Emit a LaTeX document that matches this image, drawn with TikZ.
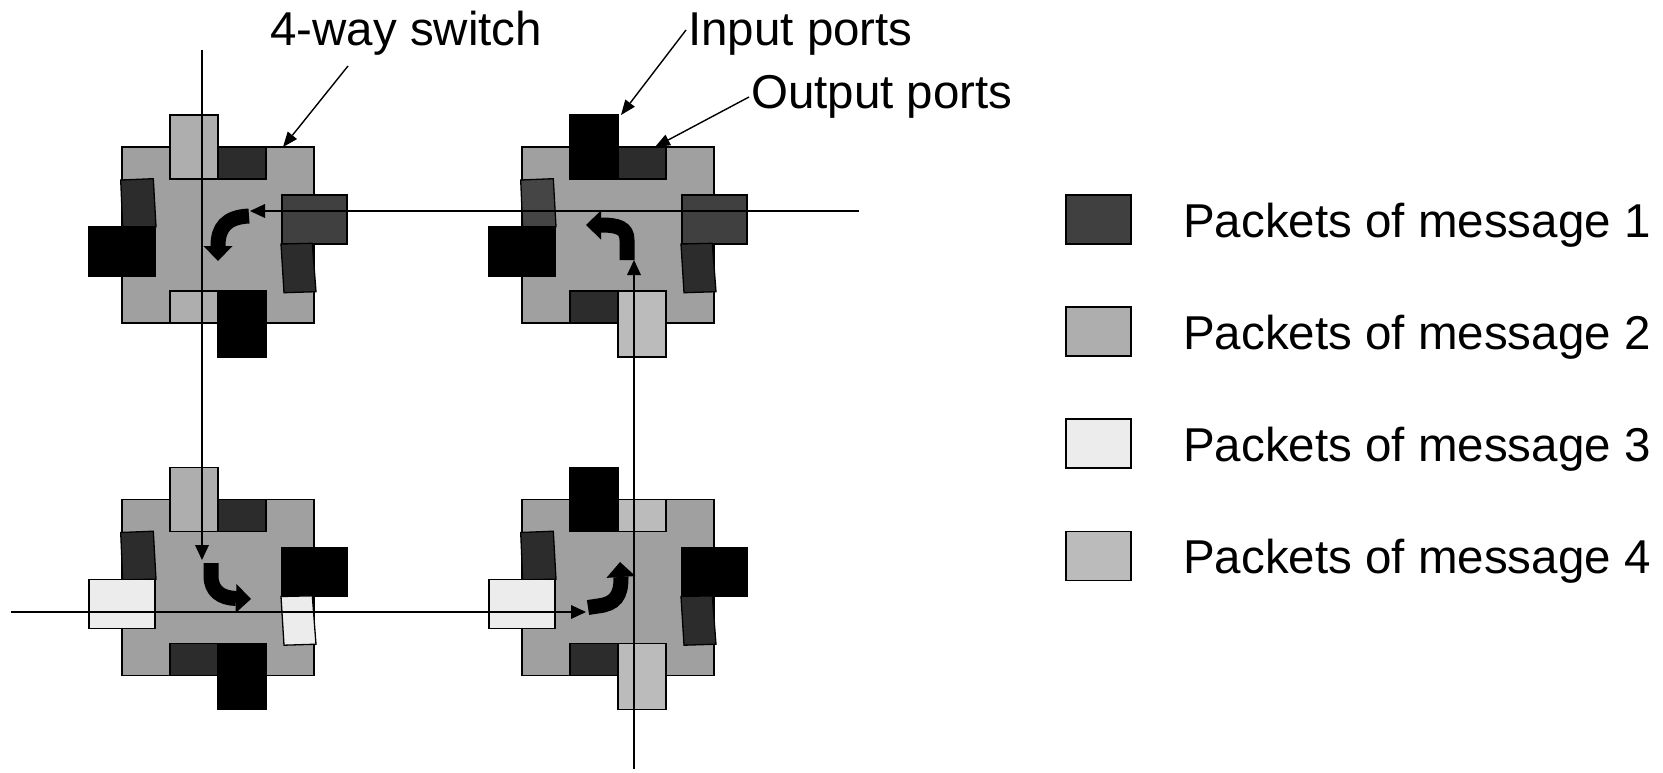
\documentclass[tikz,border=0pt]{standalone}
\usepackage{fontspec}
\setmainfont{Liberation Sans}
\usetikzlibrary{arrows.meta}
\definecolor{body}{HTML}{A0A0A0}
\definecolor{mOne}{HTML}{404040}
\definecolor{mOneB}{HTML}{454545}
\definecolor{mTwo}{HTML}{AEAEAE}
\definecolor{mThree}{HTML}{ECECEC}
\definecolor{mFour}{HTML}{BBBBBB}
\definecolor{outp}{HTML}{2C2C2C}
\tikzset{
  port/.style={draw=black, line width=1.3pt, line join=miter},
  thinarrow/.style={line width=1.8pt, -{Triangle[width=14pt,length=15pt,line width=0pt]}},
  leader/.style={line width=1.4pt, -{Triangle[width=12pt,length=15pt,line width=0pt]}},
  turn/.style={line width=15pt, -{Triangle[width=29pt,length=15pt,line width=0pt]}},
  lbl/.style={font=\fontsize{47.5}{57}\selectfont, anchor=base west, inner sep=0pt},
  legbox/.style={port, minimum width=65pt, minimum height=49pt, inner sep=0pt},
}
% #1 top tall, #2 top small, #3 left tilted, #4 left large,
% #5 right large, #6 right tilted, #7 bottom small, #8 bottom tall
\newcommand\drawswitch[8]{%
  \draw[port, fill=body] (0,0) rectangle (192,176);
  \draw[port, fill=#3] (-1.3,33) -- (31.3,31.7) -- (34,79.7) -- (0.7,80.3) -- cycle;
  \draw[port, fill=#4] (-33,80) rectangle (33,129);
  \draw[port, fill=#1] (48,-32) rectangle (96,32);
  \draw[port, fill=#2] (96,0) rectangle (144,32);
  \draw[port, fill=#5] (160,48) rectangle (225,97);
  \draw[port, fill=#6] (159,97) -- (190.3,96.3) -- (194,144.7) -- (162,145.7) -- cycle;
  \draw[port, fill=#7] (48,144) rectangle (96,176);
  \draw[port, fill=#8] (96,144) rectangle (144,210);
}
\begin{document}
\begin{tikzpicture}[x=1pt, y=-1pt]
  \fill[white] (0,0) rectangle (1663,772);
  \useasboundingbox (0,0) rectangle (1663,772);

  % switches
  \begin{scope}[shift={(122,147)}]
    \drawswitch{mTwo}{outp}{outp}{black}{mOne}{outp}{mTwo}{black}
  \end{scope}
  \begin{scope}[shift={(522,147)}]
    \drawswitch{black}{outp}{mOneB}{black}{mOne}{outp}{outp}{mFour}
  \end{scope}
  \begin{scope}[shift={(122,499.5)}]
    \drawswitch{mTwo}{outp}{outp}{mThree}{black}{mThree}{outp}{black}
  \end{scope}
  \begin{scope}[shift={(522,499.5)}]
    \drawswitch{black}{mFour}{outp}{mThree}{black}{outp}{outp}{mFour}
  \end{scope}

  % message paths
  \coordinate (a2s) at (202,50);   \coordinate (a2e) at (202,560);
  \coordinate (a1s) at (859,211);  \coordinate (a1e) at (250,211);
  \coordinate (a3s) at (11,612);   \coordinate (a3e) at (586,612);
  \coordinate (a4s) at (634,769);  \coordinate (a4e) at (634,260);
  \draw[thinarrow] (a2s) -- (a2e);
  \draw[thinarrow] (a1s) -- (a1e);
  \draw[thinarrow] (a3s) -- (a3e);
  \draw[thinarrow] (a4s) -- (a4e);

  % turning arrows inside switches
  \draw[turn] (249,216) .. controls (226,217) and (218,228) .. (218,246) -- (218,261);
  \draw[turn] (627,260) -- (627,240) .. controls (627,228) and (618,225) .. (601,225) -- (586,225);
  \draw[turn] (211,563) -- (211,576) .. controls (211,591) and (221,598) .. (236,598.5) -- (251,599);
  \draw[turn] (588,607.5) -- (598,606) .. controls (615,604) and (621,596) .. (621,578) -- (620,562);

  % labels
  \node[lbl] (lswitch) at (270,45) {4-way switch};
  \node[lbl] (linput) at (688,45) {Input ports};
  \node[lbl] (loutput) at (751,108) {Output ports};
  \coordinate (ls) at (348,66);  \coordinate (lse) at (283,147);
  \coordinate (li) at (686,30);  \coordinate (lie) at (621,115);
  \coordinate (lo) at (749,97);  \coordinate (loe) at (655,147);
  \draw[leader] (ls) -- (lse);
  \draw[leader] (li) -- (lie);
  \draw[leader] (lo) -- (loe);

  % legend
  \node[legbox, fill=mOne]   (k1) at (1098.5,219.5) {};
  \node[legbox, fill=mTwo]   (k2) at (1098.5,331.5) {};
  \node[legbox, fill=mThree] (k3) at (1098.5,443.5) {};
  \node[legbox, fill=mFour]  (k4) at (1098.5,556) {};
  \node[lbl] (t1) at (1183,237) {Packets of message 1};
  \node[lbl] (t2) at (1183,349) {Packets of message 2};
  \node[lbl] (t3) at (1183,461) {Packets of message 3};
  \node[lbl] (t4) at (1183,573.5) {Packets of message 4};
\end{tikzpicture}
\end{document}
